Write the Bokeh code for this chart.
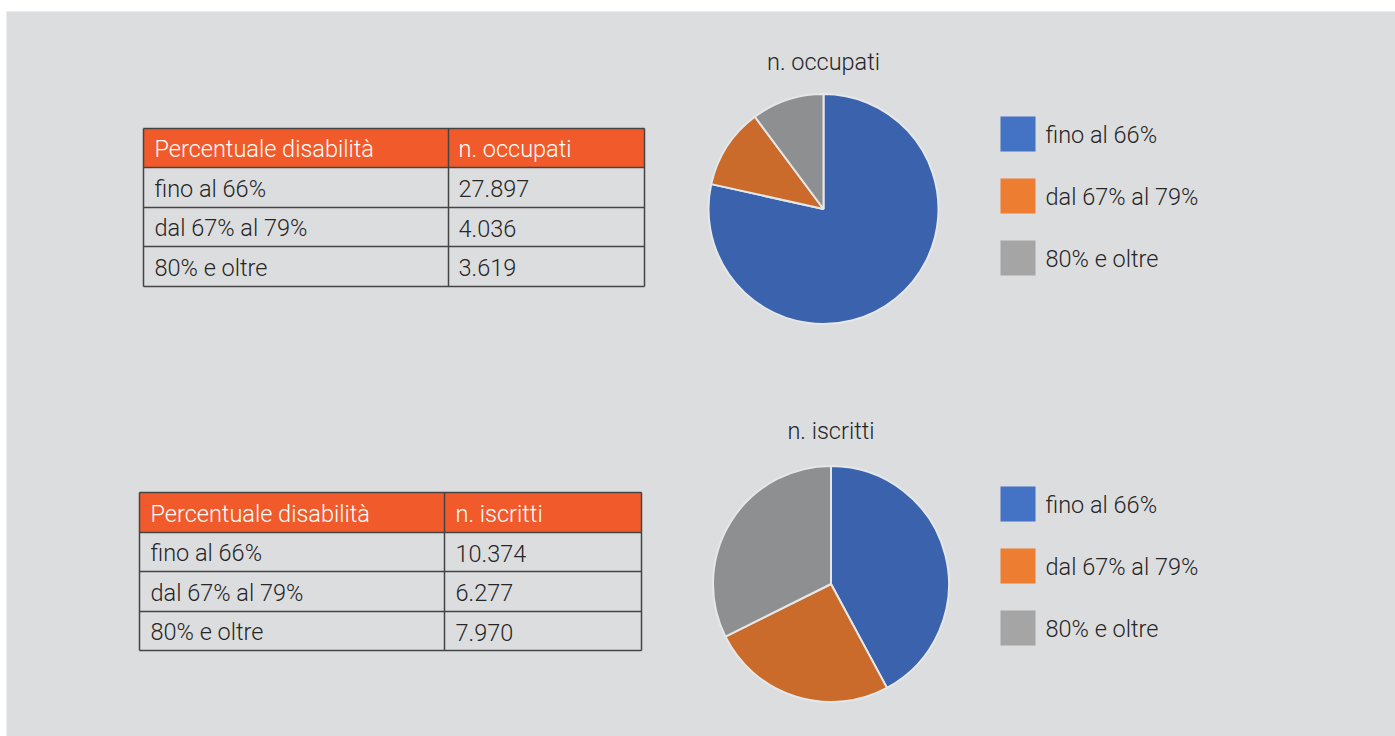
import numpy as np
from bokeh.plotting import figure
from bokeh.models import Range1d, ColumnDataSource
from bokeh.core.properties import value
from bokeh.embed import file_html
from bokeh.resources import INLINE

# ---------------- data ----------------
categories = ["fino al 66%", "dal 67% al 79%", "80% e oltre"]
header_label = "Percentuale disabilità"
series_names = ["n. occupati", "n. iscritti"]
occupati = [27897, 4036, 3619]
iscritti = [10374, 6277, 7970]
occupati_labels = ["27.897", "4.036", "3.619"]
iscritti_labels = ["10.374", "6.277", "7.970"]

pie_colors = ["#3B63AD", "#CB6B2B", "#8E8F91"]
legend_colors = ["#4472C4", "#ED7D31", "#A5A5A5"]

# ---------------- layout ----------------
W, H = 1395, 736
OFF = 0
BG = "#DCDDDF"
FONT = value("'Roboto Light', Roboto")
FS = "23.5px"
TXT = "#262626"
ORANGE = "#F15A2B"
LINE = "#444444"

p = figure(width=W, height=H, output_backend="svg", toolbar_location=None,
           x_range=Range1d(0, W), y_range=Range1d(0, H), min_border=0)
p.axis.visible = False
p.grid.visible = False
p.outline_line_color = None
p.background_fill_color = "white"
p.border_fill_color = "white"


def X(x):
    return x - OFF


def Y(y):
    return H - (y - OFF)


# grey panel
p.quad(left=[X(6)], right=[X(W)], top=[Y(11)], bottom=[Y(H)], fill_color=BG, line_color=None)


def draw_table(x0, x1, xd, rows, tx, vx, series, labels):
    p.quad(left=[X(x0)], right=[X(x1)], top=[Y(rows[0])], bottom=[Y(rows[1])],
           fill_color=ORANGE, line_color=None)
    for r in rows:
        p.line([X(x0), X(x1)], [Y(r), Y(r)], line_color=LINE, line_width=1.5)
    for c in (x0, xd, x1):
        p.line([X(c), X(c)], [Y(rows[0]), Y(rows[-1])], line_color=LINE, line_width=1.5)
    mid = [(rows[i] + rows[i + 1]) / 2 + 1 for i in range(len(rows) - 1)]
    p.text(x=[X(tx), X(vx)], y=[Y(mid[0])] * 2, text=[header_label, series],
           text_font=FONT, text_font_size=FS, text_color="white",
           text_baseline="middle", text_align="left")
    p.text(x=[X(tx)] * 3, y=[Y(m) for m in mid[1:]], text=categories,
           text_font=FONT, text_font_size=FS, text_color=TXT,
           text_baseline="middle", text_align="left")
    p.text(x=[X(vx)] * 3, y=[Y(m) for m in mid[1:]], text=labels,
           text_font=FONT, text_font_size=FS, text_color=TXT,
           text_baseline="middle", text_align="left")


def draw_pie(cx, cy, r, vals, title, ty):
    v = np.array(vals, dtype=float)
    frac = np.cumsum(v) / v.sum()
    start = np.pi / 2 - np.concatenate([[0], frac[:-1]]) * 2 * np.pi
    end = np.pi / 2 - frac * 2 * np.pi
    src = ColumnDataSource(dict(start=start, end=end, color=pie_colors))
    p.wedge(x=X(cx), y=Y(cy), radius=r, radius_units="screen",
            start_angle="start", end_angle="end", direction="clock",
            fill_color="color", line_color="#E6E7E9", line_width=2, source=src)
    p.text(x=[X(cx)], y=[Y(ty)], text=[title], text_font=FONT, text_font_size=FS,
           text_color=TXT, text_align="center", text_baseline="middle")


def draw_legend(x0, tops, size, tx):
    p.quad(left=[X(x0)] * 3, right=[X(x0 + size)] * 3,
           top=[Y(t) for t in tops], bottom=[Y(t + size) for t in tops],
           fill_color=legend_colors, line_color=None)
    p.text(x=[X(tx)] * 3, y=[Y(t + size / 2 + 1) for t in tops], text=categories,
           text_font=FONT, text_font_size=FS, text_color=TXT,
           text_baseline="middle", text_align="left")


draw_table(143, 644, 448, [128, 167, 207, 246, 286], 154, 458, series_names[0], occupati_labels)
draw_table(139, 641, 444, [492, 532, 571, 611, 650], 150, 455, series_names[1], iscritti_labels)

draw_pie(823, 208.5, 115, occupati, series_names[0], 61)
draw_pie(830.5, 583.5, 118, iscritti, series_names[1], 430)

draw_legend(1000, [116, 178, 240], 35, 1045)
draw_legend(1000, [486, 548, 610], 35, 1045)

open("out.html", "w").write(file_html(p, INLINE))
